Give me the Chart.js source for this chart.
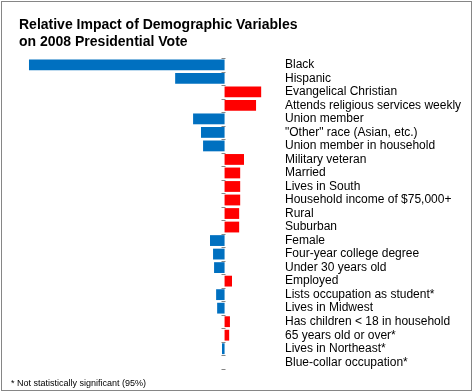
<!DOCTYPE html>
<html>
<head>
<meta charset="utf-8">
<script src="https://cdn.jsdelivr.net/npm/chart.js@4.4.1/dist/chart.umd.min.js"></script>
<style>
    body { margin: 0; background: #fff; }
    #wrap { position: relative; width: 473px; height: 392px; }
    #frame {
        position: absolute; left: 1px; top: 1px; width: 471px; height: 390px;
        box-sizing: border-box; border: 1px solid #868686; pointer-events: none;
    }
    #note {
        position: absolute; left: 11px; top: 379px;
        font: 9px "Liberation Sans", Arial, sans-serif; line-height: 1; color: #000;
    }
    canvas { position: absolute; left: 0; top: 0; }
</style>
</head>
<body>
<div id="wrap">
    <canvas id="impactChart" width="473" height="392"></canvas>
    <div id="frame"></div>
    <div id="note">* Not statistically significant (95%)</div>
</div>
<script>
const titleLines = ['Relative Impact of Demographic Variables', 'on 2008 Presidential Vote'];

const categories = [
    'Black',
    'Hispanic',
    'Evangelical Christian',
    'Attends religious services weekly',
    'Union member',
    '"Other" race (Asian, etc.)',
    'Union member in household',
    'Military veteran',
    'Married',
    'Lives in South',
    'Household income of $75,000+',
    'Rural',
    'Suburban',
    'Female',
    'Four-year college degree',
    'Under 30 years old',
    'Employed',
    'Lists occupation as student*',
    'Lives in Midwest',
    'Has children < 18 in household',
    '65 years old or over*',
    'Lives in Northeast*',
    'Blue-collar occupation*'
];

// relative impact (negative = toward Obama, positive = toward McCain)
const impact = [
    -76.4, -19.3, 14.3, 12.3, -12.3, -9.2, -8.4, 7.6, 6.1, 6.1, 6.1, 5.7,
    5.7, -5.7, -4.5, -4.1, 2.9, -3.3, -2.9, 2.1, 1.8, -1.0, 0
];

const BLUE = '#0070C0';
const RED = '#FF0000';
const AXIS_GREY = '#868686';

// little tick marks on the left side of the zero line, between categories
const zeroTicks = {
    id: 'zeroTicks',
    afterDatasetsDraw(chart) {
        const xScale = chart.scales.x;
        const yScale = chart.scales.y;
        const x0 = Math.round(xScale.getPixelForValue(0)) + 0.5;
        const n = categories.length;
        const step = (yScale.bottom - yScale.top) / n;
        const ctx = chart.ctx;
        ctx.save();
        ctx.strokeStyle = AXIS_GREY;
        ctx.lineWidth = 1;
        ctx.beginPath();
        for (let i = 0; i <= n; i++) {
            const y = Math.round(yScale.top + i * step) + 0.5;
            ctx.moveTo(x0 - 4, y);
            ctx.lineTo(x0, y);
        }
        ctx.stroke();
        ctx.restore();
    }
};

document.addEventListener('DOMContentLoaded', function() {
    Chart.defaults.font.family = '"Liberation Sans", Arial, sans-serif';
    Chart.defaults.color = '#000';

    const ctx = document.getElementById('impactChart').getContext('2d');

    new Chart(ctx, {
        type: 'bar',
        data: {
            labels: categories,
            datasets: [{
                data: impact,
                backgroundColor: impact.map(v => v < 0 ? BLUE : RED),
                borderWidth: 0,
                barPercentage: 0.8,
                categoryPercentage: 1
            }]
        },
        options: {
            indexAxis: 'y',
            responsive: false,
            animation: false,
            layout: {
                padding: { left: 19, right: 0, top: 0, bottom: 23 }
            },
            plugins: {
                legend: { display: false },
                tooltip: { enabled: false },
                title: {
                    display: true,
                    text: titleLines,
                    align: 'start',
                    color: '#000',
                    font: { size: 14, weight: 'bold', lineHeight: 1.18 },
                    padding: { top: 17, bottom: 8 }
                }
            },
            scales: {
                x: {
                    min: -80.3,
                    max: 19.7,
                    ticks: { display: false, stepSize: 10 },
                    border: { display: false },
                    grid: {
                        drawTicks: false,
                        color: c => (c.tick && c.tick.value === 0) ? AXIS_GREY : 'rgba(0,0,0,0)'
                    }
                },
                y: {
                    position: 'right',
                    afterFit: function(scale) {
                        scale.width = 198;
                    },
                    border: { display: false },
                    grid: { display: false, drawTicks: false },
                    ticks: {
                        padding: 10,
                        autoSkip: false,
                        font: { size: 12 }
                    }
                }
            }
        },
        plugins: [zeroTicks]
    });
});
</script>
</body>
</html>
